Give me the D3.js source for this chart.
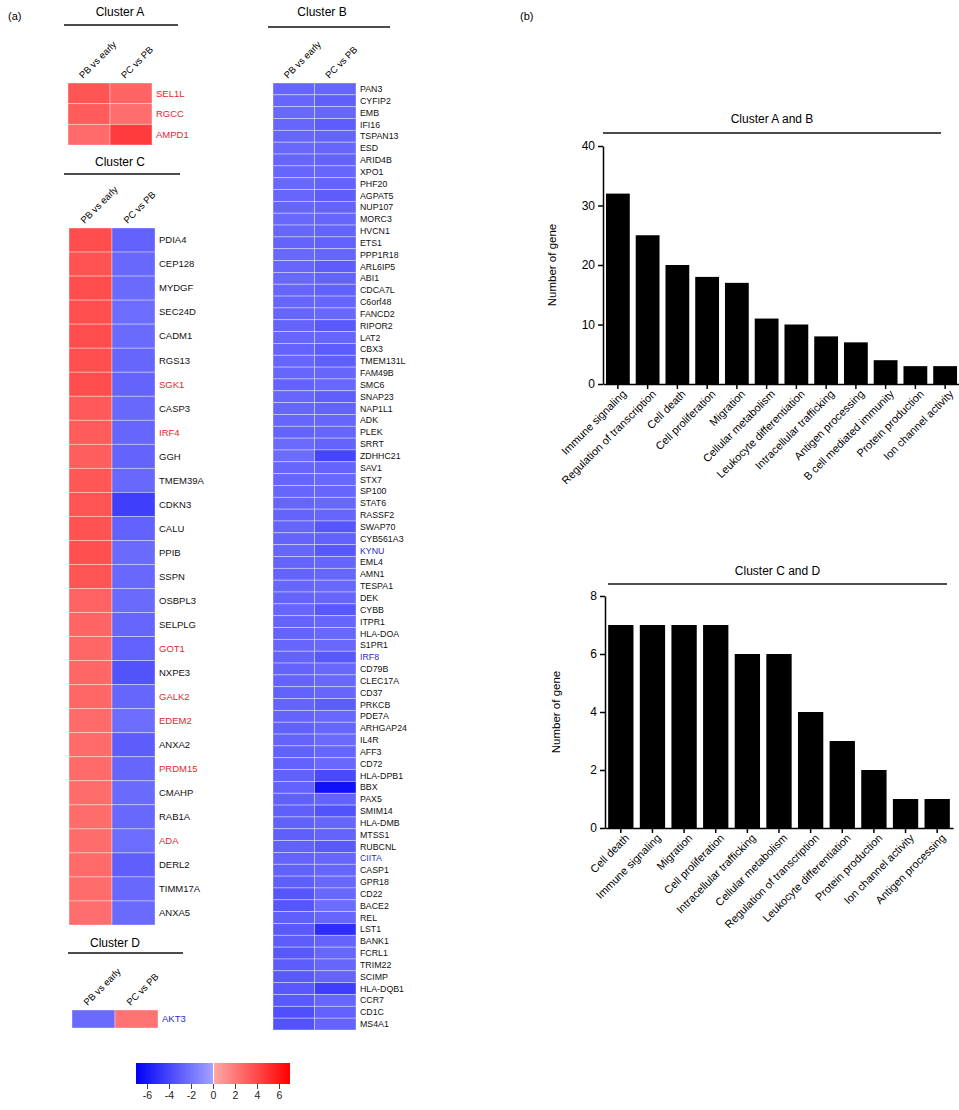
<!DOCTYPE html>
<html>
<head>
<meta charset="utf-8">
<script src="https://cdn.jsdelivr.net/npm/d3@7"></script>
<style>
    body { margin: 0; background: #fff; }
    svg { font-family: "Liberation Sans", Arial, sans-serif; }
    .axis path, .axis line { stroke: #000; stroke-width: 1.5; }
    .axis text { fill: #000; }
</style>
</head>
<body>
<div id="chart"></div>
<script>
const COLUMNS = ["PB vs early", "PC vs PB"];

// log2 fold changes
const clusterAGenes = ["SEL1L", "RGCC", "AMPD1"];
const clusterAEarly = [3.5, 3.2, 2.6];
const clusterAPC = [2.8, 2.4, 4.5];

const clusterBGenes = ["PAN3", "CYFIP2", "EMB", "IFI16", "TSPAN13", "ESD", "ARID4B", "XPO1", "PHF20", "AGPAT5",
    "NUP107", "MORC3", "HVCN1", "ETS1", "PPP1R18", "ARL6IP5", "ABI1", "CDCA7L", "C6orf48", "FANCD2",
    "RIPOR2", "LAT2", "CBX3", "TMEM131L", "FAM49B", "SMC6", "SNAP23", "NAP1L1", "ADK", "PLEK",
    "SRRT", "ZDHHC21", "SAV1", "STX7", "SP100", "STAT6", "RASSF2", "SWAP70", "CYB561A3", "KYNU",
    "EML4", "AMN1", "TESPA1", "DEK", "CYBB", "ITPR1", "HLA-DOA", "S1PR1", "IRF8", "CD79B",
    "CLEC17A", "CD37", "PRKCB", "PDE7A", "ARHGAP24", "IL4R", "AFF3", "CD72", "HLA-DPB1", "BBX",
    "PAX5", "SMIM14", "HLA-DMB", "MTSS1", "RUBCNL", "CIITA", "CASP1", "GPR18", "CD22", "BACE2",
    "REL", "LST1", "BANK1", "FCRL1", "TRIM22", "SCIMP", "HLA-DQB1", "CCR7", "CD1C", "MS4A1"];
const clusterBEarly = [-2.6, -2.6, -2.5, -2.6, -2.6, -2.5, -2.6, -2.6, -2.5, -2.6,
    -2.6, -2.5, -2.6, -2.7, -2.5, -2.6, -2.5, -2.6, -2.6, -2.6,
    -2.7, -2.6, -2.7, -2.6, -2.6, -2.7, -2.6, -2.6, -2.6, -2.7,
    -2.4, -2.3, -2.6, -2.6, -2.6, -2.6, -2.7, -2.6, -2.7, -2.6,
    -2.7, -2.7, -2.6, -2.7, -2.6, -2.7, -2.7, -2.6, -2.7, -2.7,
    -2.7, -2.8, -2.7, -2.7, -2.8, -2.7, -2.8, -2.8, -2.8, -2.8,
    -2.8, -2.9, -2.8, -2.9, -2.8, -2.7, -2.8, -2.9, -3.3, -3.3,
    -2.9, -3.1, -3.0, -3.2, -3.0, -3.1, -3.2, -3.1, -3.6, -3.4];
const clusterBPC = [-2.6, -2.9, -2.6, -3.0, -2.7, -2.6, -2.7, -2.6, -2.7, -3.0,
    -2.7, -2.6, -2.7, -2.8, -2.6, -3.0, -2.7, -2.8, -2.6, -2.5,
    -3.1, -2.6, -3.0, -2.9, -2.6, -2.5, -2.9, -2.7, -2.6, -2.6,
    -2.7, -4.0, -2.7, -2.5, -2.6, -2.5, -2.6, -3.3, -2.8, -3.2,
    -2.6, -2.6, -2.5, -2.6, -3.2, -2.6, -2.5, -2.5, -3.2, -2.5,
    -2.5, -2.6, -3.0, -2.5, -2.6, -2.4, -2.6, -2.5, -3.8, -6.3,
    -2.7, -3.4, -2.6, -2.7, -3.1, -2.6, -2.6, -2.5, -2.5, -2.3,
    -2.6, -5.0, -2.7, -2.6, -2.6, -2.7, -4.3, -2.6, -2.8, -2.7];

const clusterCGenes = ["PDIA4", "CEP128", "MYDGF", "SEC24D", "CADM1", "RGS13", "SGK1", "CASP3", "IRF4", "GGH",
    "TMEM39A", "CDKN3", "CALU", "PPIB", "SSPN", "OSBPL3", "SELPLG", "GOT1", "NXPE3", "GALK2",
    "EDEM2", "ANXA2", "PRDM15", "CMAHP", "RAB1A", "ADA", "DERL2", "TIMM17A", "ANXA5"];
const clusterCEarly = [3.8, 3.6, 3.8, 3.7, 3.8, 3.7, 3.8, 3.3, 3.2, 3.1,
    3.4, 3.5, 3.6, 3.7, 3.5, 2.9, 2.8, 2.7, 2.7, 2.7,
    2.6, 2.6, 2.6, 2.5, 2.5, 2.5, 2.6, 2.5, 2.4];
const clusterCPC = [-2.8, -2.5, -2.4, -2.3, -2.4, -2.6, -2.7, -2.5, -2.6, -2.7,
    -2.5, -4.3, -2.8, -2.4, -2.5, -2.4, -2.6, -2.8, -3.4, -2.6,
    -2.3, -3.0, -2.6, -2.4, -2.5, -2.3, -2.9, -2.5, -2.4];

const clusterDGenes = ["AKT3"];
const clusterDEarly = [-2.4];
const clusterDPC = [2.2];

const redLabels = ["SEL1L", "RGCC", "AMPD1", "SGK1", "IRF4", "GOT1", "GALK2", "EDEM2", "PRDM15", "ADA"];
const blueLabels = ["KYNU", "IRF8", "CIITA", "AKT3"];

const legendTicks = [-6, -4, -2, 0, 2, 4, 6];

const abCategories = ["Immune signaling", "Regulation of transcription", "Cell death", "Cell proliferation",
    "Migration", "Cellular metabolism", "Leukocyte differentiation", "Intracellular trafficking",
    "Antigen processing", "B cell mediated immunity", "Protein production", "Ion channel activity"];
const abCounts = [32, 25, 20, 18, 17, 11, 10, 8, 7, 4, 3, 3];
const abTicks = [0, 10, 20, 30, 40];

const cdCategories = ["Cell death", "Immune signaling", "Migration", "Cell proliferation",
    "Intracellular trafficking", "Cellular metabolism", "Regulation of transcription",
    "Leukocyte differentiation", "Protein production", "Ion channel activity", "Antigen processing"];
const cdCounts = [7, 7, 7, 7, 6, 6, 4, 3, 2, 1, 1];
const cdTicks = [0, 2, 4, 6, 8];

const WIDTH = 959;
const HEIGHT = 1110;
const FONT = "Liberation Sans, Arial, sans-serif";

const blueScale = d3.scaleLinear().domain([-7, 0]).range(["#0000f8", "#a2a2ff"]);
const redScale = d3.scaleLinear().domain([0, 7]).range(["#ffa8a8", "#ff0000"]);
const fcColor = v => v < 0 ? blueScale(v) : redScale(v);

const labelColor = gene => {
    if (redLabels.includes(gene)) return "#e3262b";
    if (blueLabels.includes(gene)) return "#2a2ac8";
    return "#111";
};

const svg = d3.select("#chart")
    .append("svg")
    .attr("width", WIDTH)
    .attr("height", HEIGHT);

svg.append("text").attr("x", 8).attr("y", 20).attr("font-size", 11).text("(a)");
svg.append("text").attr("x", 520).attr("y", 20).attr("font-size", 11).text("(b)");

const clusterTitle = (title, cx, ty, lx0, lx1, ly) => {
    svg.append("text")
        .attr("x", cx).attr("y", ty)
        .attr("text-anchor", "middle")
        .attr("font-size", 12)
        .text(title);
    svg.append("line")
        .attr("x1", lx0).attr("x2", lx1)
        .attr("y1", ly).attr("y2", ly)
        .attr("stroke", "#111")
        .attr("stroke-width", 1.6);
};

const drawHeatmap = (opts) => {
    const {title, genes, early, pc, x0, x1, y0, y1, titleX, titleY, lineX0, lineX1, lineY, labelSize} = opts;
    clusterTitle(title, titleX, titleY, lineX0, lineX1, lineY);

    const x = d3.scaleBand().domain(COLUMNS).range([x0, x1]);
    const y = d3.scaleBand().domain(genes).range([y0, y1]);
    const g = svg.append("g").attr("class", "heatmap");

    const cells = [];
    genes.forEach((gene, i) => {
        cells.push({gene, col: COLUMNS[0], v: early[i]});
        cells.push({gene, col: COLUMNS[1], v: pc[i]});
    });

    g.selectAll("rect.cell")
        .data(cells)
        .enter()
        .append("rect")
        .attr("class", "cell")
        .attr("x", d => x(d.col))
        .attr("y", d => y(d.gene))
        .attr("width", x.bandwidth())
        .attr("height", y.bandwidth())
        .attr("fill", d => fcColor(d.v))
        .attr("stroke", "#fff")
        .attr("stroke-opacity", 0.45)
        .attr("stroke-width", 0.8);

    g.selectAll("text.gene")
        .data(genes)
        .enter()
        .append("text")
        .attr("class", "gene")
        .attr("x", x1 + 4)
        .attr("y", d => y(d) + y.bandwidth() / 2)
        .attr("dy", "0.35em")
        .attr("font-size", labelSize)
        .attr("fill", labelColor)
        .text(d => d);

    g.selectAll("text.col")
        .data(COLUMNS)
        .enter()
        .append("text")
        .attr("class", "col")
        .attr("font-size", 9.5)
        .attr("transform", d => "translate(" + (x(d) + x.bandwidth() / 2 - 6) + "," + (y0 - 4) + ") rotate(-45)")
        .text(d => d);
};

drawHeatmap({
    title: "Cluster A", genes: clusterAGenes, early: clusterAEarly, pc: clusterAPC,
    x0: 68, x1: 152, y0: 83, y1: 145,
    titleX: 120, titleY: 16, lineX0: 64, lineX1: 178, lineY: 25, labelSize: 9.5
});

drawHeatmap({
    title: "Cluster C", genes: clusterCGenes, early: clusterCEarly, pc: clusterCPC,
    x0: 69, x1: 155, y0: 228, y1: 925,
    titleX: 120, titleY: 166, lineX0: 64, lineX1: 180, lineY: 174, labelSize: 9.5
});

drawHeatmap({
    title: "Cluster D", genes: clusterDGenes, early: clusterDEarly, pc: clusterDPC,
    x0: 72, x1: 158, y0: 1010, y1: 1028,
    titleX: 115, titleY: 947, lineX0: 68, lineX1: 183, lineY: 953, labelSize: 9.5
});

drawHeatmap({
    title: "Cluster B", genes: clusterBGenes, early: clusterBEarly, pc: clusterBPC,
    x0: 273, x1: 356, y0: 83, y1: 1030,
    titleX: 322, titleY: 16, lineX0: 268, lineX1: 390, lineY: 27, labelSize: 8.8
});

// colour legend
const legendScale = d3.scaleLinear().domain([-7, 7]).range([136, 290]);
const defs = svg.append("defs");
const grad = defs.append("linearGradient").attr("id", "fcGrad");
[[0, fcColor(-7)], [0.5, fcColor(-0.01)], [0.5, "#fff"], [0.505, "#fff"], [0.505, fcColor(0.01)], [1, fcColor(7)]]
    .forEach(([o, c]) => grad.append("stop").attr("offset", o).attr("stop-color", c));

svg.append("rect")
    .attr("x", legendScale(-7))
    .attr("y", 1063)
    .attr("width", legendScale(7) - legendScale(-7))
    .attr("height", 21)
    .attr("fill", "url(#fcGrad)");

const legendAxis = svg.append("g")
    .attr("class", "legend-axis")
    .attr("transform", "translate(0,1084)")
    .call(d3.axisBottom(legendScale).tickValues(legendTicks).tickFormat(d => String(d)).tickSize(5).tickPadding(3));
legendAxis.select(".domain").remove();
legendAxis.selectAll("line").attr("stroke", "#444");
legendAxis.selectAll("text").attr("font-size", 10.5).attr("fill", "#222").attr("font-family", FONT);

// GO category bar charts
const drawBarChart = (opts) => {
    const {title, categories, counts, ticks, xRange, yRange, titleY, lineX0, lineX1, lineY, labelX} = opts;
    clusterTitle(title, (lineX0 + lineX1) / 2, titleY, lineX0, lineX1, lineY);

    const x = d3.scaleBand().domain(categories).range(xRange).paddingInner(0.2).paddingOuter(0.1);
    const y = d3.scaleLinear().domain([0, d3.max(ticks)]).range(yRange);

    svg.append("g")
        .selectAll("rect")
        .data(categories)
        .enter()
        .append("rect")
        .attr("x", d => x(d))
        .attr("y", (d, i) => y(counts[i]))
        .attr("width", x.bandwidth())
        .attr("height", (d, i) => y(0) - y(counts[i]))
        .attr("fill", "#000");

    const yAxis = svg.append("g")
        .attr("class", "axis")
        .attr("transform", "translate(" + xRange[0] + ",0)")
        .call(d3.axisLeft(y).tickValues(ticks).tickSize(5).tickSizeOuter(0).tickPadding(3));
    yAxis.selectAll("text").attr("font-size", 12).attr("font-family", FONT);

    const xAxis = svg.append("g")
        .attr("class", "axis")
        .attr("transform", "translate(0," + yRange[0] + ")")
        .call(d3.axisBottom(x).tickSize(5).tickSizeOuter(0).tickPadding(4));
    xAxis.selectAll("text")
        .attr("font-size", 11)
        .attr("font-family", FONT)
        .attr("text-anchor", "end")
        .attr("dx", "-0.1em")
        .attr("dy", "0.45em")
        .attr("transform", "rotate(-45)");

    svg.append("text")
        .attr("transform", "translate(" + labelX + "," + ((yRange[0] + yRange[1]) / 2) + ") rotate(-90)")
        .attr("text-anchor", "middle")
        .attr("font-size", 11.5)
        .text("Number of gene");
};

drawBarChart({
    title: "Cluster A and B", categories: abCategories, counts: abCounts, ticks: abTicks,
    xRange: [603, 960], yRange: [384, 146], titleY: 123, lineX0: 603, lineX1: 941, lineY: 133, labelX: 556
});

drawBarChart({
    title: "Cluster C and D", categories: cdCategories, counts: cdCounts, ticks: cdTicks,
    xRange: [605, 953], yRange: [828, 596], titleY: 575, lineX0: 608, lineX1: 947, lineY: 584, labelX: 560
});
</script>
</body>
</html>
